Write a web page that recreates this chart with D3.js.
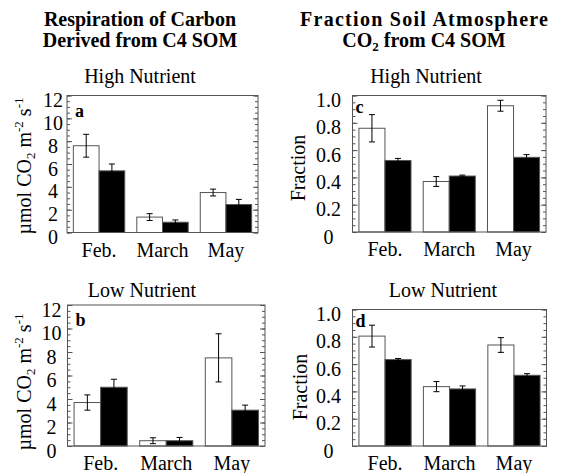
<!DOCTYPE html>
<html lang="en">
<head>
<meta charset="UTF-8">
<title>C4 SOM respiration and soil CO2 fraction</title>
<script src="https://d3js.org/d3.v7.min.js"></script>
<style>
  body { margin: 0; background: #fff; }
  text { font-family: "Liberation Serif", "Times New Roman", serif; fill: #000; }
</style>
</head>
<body>
<div id="chart"></div>
<script>
// months on the x axis
const months = ["Feb.", "March", "May"];

// respiration of C4-derived carbon (umol CO2 m-2 s-1)
const highRespOpen = [7.6, 1.35, 3.5];
const highRespOpenErr = [1.0, 0.3, 0.3];
const highRespFilled = [5.4, 0.9, 2.45];
const highRespFilledErr = [0.6, 0.2, 0.45];

const lowRespOpen = [3.7, 0.45, 7.5];
const lowRespOpenErr = [0.65, 0.25, 2.05];
const lowRespFilled = [5.0, 0.45, 3.05];
const lowRespFilledErr = [0.68, 0.28, 0.43];

// fraction of soil atmosphere CO2 from C4 SOM
const highFracOpen = [0.76, 0.37, 0.925];
const highFracOpenErr = [0.10, 0.036, 0.04];
const highFracFilled = [0.524, 0.41, 0.547];
const highFracFilledErr = [0.015, 0.007, 0.02];

const lowFracOpen = [0.805, 0.435, 0.74];
const lowFracOpenErr = [0.08, 0.037, 0.054];
const lowFracFilled = [0.633, 0.418, 0.518];
const lowFracFilledErr = [0.008, 0.022, 0.012];

// y axis tick labels
const respTicks = [0, 2, 4, 6, 8, 10, 12];
const fracTicks = [0, 0.2, 0.4, 0.6, 0.8, 1.0];

const W = 563, H = 473;
const svg = d3.select("#chart").append("svg")
    .attr("width", W).attr("height", H);

// column titles
function title(cx, lines) {
  lines.forEach((l, i) => {
    const t = svg.append("text").attr("text-anchor", "middle")
        .attr("font-weight", "bold").attr("font-size", 20)
        .attr("x", cx).attr("y", 26 + i * 21);
    if (l.len) t.attr("textLength", l.len).attr("lengthAdjust", "spacing");
    l.parts.forEach(part => {
      const s = t.append("tspan").text(part.t);
      if (part.sub) s.attr("font-size", 13).attr("dy", 4);
      if (part.after) s.attr("dy", -4);
    });
  });
}
title(140, [{parts: [{t: "Respiration of Carbon"}]}, {parts: [{t: "Derived from C4 SOM"}]}]);
title(424, [{parts: [{t: "Fraction Soil Atmosphere"}], len: 248},
            {parts: [{t: "CO"}, {t: "2", sub: true}, {t: " from C4 SOM", after: true}]}]);

const panels = [
  {letter: "a", sub: "High Nutrient", subX: 140, subY: 83, x0: 67, x1: 258, y0: 95.5, y1: 232.5,
   open: highRespOpen, openErr: highRespOpenErr, filled: highRespFilled, filledErr: highRespFilledErr,
   ticks: respTicks, max: 12, minor: 0.5, fmt: d => String(d), labOff: 14, ylab: "resp", ylabX: 31, ylabY: 166},
  {letter: "b", sub: "Low Nutrient", subX: 142, subY: 297, x0: 67.5, x1: 265, y0: 305, y1: 446,
   open: lowRespOpen, openErr: lowRespOpenErr, filled: lowRespFilled, filledErr: lowRespFilledErr,
   ticks: respTicks, max: 12, minor: 0.5, fmt: d => String(d), labOff: 16, ylab: "resp", ylabX: 31, ylabY: 382},
  {letter: "c", sub: "High Nutrient", subX: 426, subY: 83, x0: 352.5, x1: 546, y0: 95.5, y1: 232,
   open: highFracOpen, openErr: highFracOpenErr, filled: highFracFilled, filledErr: highFracFilledErr,
   ticks: fracTicks, max: 1, minor: 0.05, fmt: d => d === 0 ? "0" : d3.format(".1f")(d), labOff: 24, ylab: "frac", ylabX: 305, ylabY: 168},
  {letter: "d", sub: "Low Nutrient", subX: 443, subY: 297, x0: 352.5, x1: 546.5, y0: 309.5, y1: 446,
   open: lowFracOpen, openErr: lowFracOpenErr, filled: lowFracFilled, filledErr: lowFracFilledErr,
   ticks: fracTicks, max: 1, minor: 0.05, fmt: d => d === 0 ? "0" : d3.format(".1f")(d), labOff: 24, ylab: "frac", ylabX: 307, ylabY: 387}
];

const frameColor = "#555";

panels.forEach(p => {
  const g = svg.append("g");
  const x = d3.scaleBand().domain(months).range([p.x0, p.x1])
      .paddingInner(0.19).paddingOuter(0.1);
  const xs = d3.scaleBand().domain(["open", "filled"]).range([0, x.bandwidth()]);
  const y = d3.scaleLinear().domain([0, p.max]).range([p.y1, p.y0]);

  // subtitle
  svg.append("text").attr("x", p.subX).attr("y", p.subY)
      .attr("text-anchor", "middle").attr("font-size", 20).text(p.sub);

  const rows = months.map((m, i) => ({m,
    series: [{k: "open", v: p.open[i], e: p.openErr[i]},
             {k: "filled", v: p.filled[i], e: p.filledErr[i]}]}));

  const grp = g.selectAll("g.month").data(rows).join("g")
      .attr("transform", d => `translate(${x(d.m)},0)`);

  grp.selectAll("rect").data(d => d.series).join("rect")
      .attr("x", d => xs(d.k))
      .attr("width", xs.bandwidth())
      .attr("y", d => y(d.v))
      .attr("height", d => y(0) - y(d.v))
      .attr("fill", d => d.k === "open" ? "#fff" : "#000")
      .attr("stroke", frameColor).attr("stroke-width", 1);

  // error bars
  const eb = grp.selectAll("g.err").data(d => d.series).join("g")
      .attr("transform", d => `translate(${xs(d.k) + xs.bandwidth() / 2},0)`)
      .attr("stroke", "#000").attr("stroke-width", 1);
  eb.append("line").attr("y1", d => y(d.v - d.e)).attr("y2", d => y(d.v + d.e));
  eb.append("line").attr("x1", -3).attr("x2", 3)
      .attr("y1", d => y(d.v + d.e)).attr("y2", d => y(d.v + d.e));
  eb.append("line").attr("x1", -3).attr("x2", 3)
      .attr("y1", d => y(d.v - d.e)).attr("y2", d => y(d.v - d.e));

  // inside ticks on both vertical sides
  const minorTicks = d3.range(0, p.max + p.minor / 2, p.minor);
  const left = d3.axisRight(y).tickValues(minorTicks).tickSize(3).tickFormat("");
  const right = d3.axisLeft(y).tickValues(minorTicks).tickSize(3).tickFormat("");
  const leftMajor = d3.axisRight(y).tickValues(p.ticks).tickSize(5).tickFormat("");
  const rightMajor = d3.axisLeft(y).tickValues(p.ticks).tickSize(5).tickFormat("");
  [[left, p.x0], [leftMajor, p.x0], [right, p.x1], [rightMajor, p.x1]].forEach(([ax, px]) => {
    const a = g.append("g").attr("transform", `translate(${px},0)`).call(ax);
    a.select(".domain").remove();
    a.selectAll("line").attr("stroke", frameColor);
  });

  // tick labels
  g.selectAll("text.tl").data(p.ticks).join("text")
      .attr("x", p.x0 - p.labOff).attr("y", d => y(d) + 11.5)
      .attr("text-anchor", "middle").attr("font-size", 20)
      .text(p.fmt);

  // month labels
  g.selectAll("text.ml").data(months).join("text")
      .attr("x", d => x(d) + x.bandwidth() / 2).attr("y", p.y1 + 24)
      .attr("text-anchor", "middle").attr("font-size", 20).text(d => d);

  // frame
  g.append("rect").attr("x", p.x0).attr("y", p.y0)
      .attr("width", p.x1 - p.x0).attr("height", p.y1 - p.y0)
      .attr("fill", "none").attr("stroke", frameColor).attr("stroke-width", 1);

  // panel letter
  g.append("text").attr("x", p.x0 + (p.ylab === "resp" ? 8 : 3)).attr("y", p.y0 + (p.ylab === "resp" ? 21 : 17))
      .attr("font-weight", "bold").attr("font-size", 18).text(p.letter);

  // y axis label
  const yl = svg.append("text")
      .attr("transform", `translate(${p.ylabX},${p.ylabY}) rotate(-90)`)
      .attr("text-anchor", "middle").attr("font-size", 20);
  if (p.ylab === "resp") {
    yl.append("tspan").text("\u00b5mol CO");
    yl.append("tspan").attr("font-size", 13).attr("dy", 4).text("2");
    yl.append("tspan").attr("dy", -4).text(" m");
    yl.append("tspan").attr("font-size", 13).attr("dy", -8).text("-2");
    yl.append("tspan").attr("dy", 8).text(" s");
    yl.append("tspan").attr("font-size", 13).attr("dy", -8).text("-1");
  } else {
    yl.text("Fraction");
  }
});
</script>
</body>
</html>
